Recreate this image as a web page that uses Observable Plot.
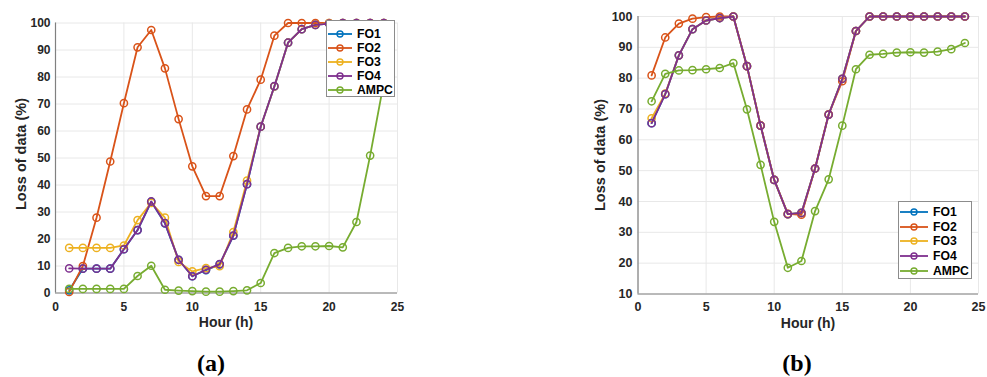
<!DOCTYPE html>
<html>
<head>
<meta charset="utf-8">
<script src="https://cdn.jsdelivr.net/npm/d3@7"></script>
<script src="https://cdn.jsdelivr.net/npm/@observablehq/plot@0.6"></script>
<style>
  html, body { margin: 0; padding: 0; background: #fff; }
  #root { position: relative; width: 987px; height: 377px; overflow: hidden; background: #fff; font-family: "Liberation Sans", Arial, sans-serif; }
  .panel { position: absolute; top: 0; }
  .panel svg text { font-weight: bold; }
  .ytitle, .xtitle { position: absolute; font-weight: bold; font-size: 14.5px; color: #262626; white-space: nowrap; }
  .ytitle { transform: translate(-50%, -50%) rotate(-90deg); }
  .xtitle { transform: translate(-50%, -50%); font-size: 14px; }
  .cap { position: absolute; transform: translate(-50%, -50%); font-family: "Liberation Serif", "DejaVu Serif", serif; font-weight: bold; font-size: 24px; color: #000; }
  .legend { position: absolute; background: #fff; border: 1px solid #8c8c8c; box-sizing: border-box; }
  .legend .row { position: absolute; left: 0; display: flex; align-items: center; font-weight: bold; font-size: 12.2px; color: #000; }
</style>
</head>
<body>
<div id="root"></div>
<script>
// ---------- data ----------
const hours = [1,2,3,4,5,6,7,8,9,10,11,12,13,14,15,16,17,18,19,20,21,22,23,24];
const seriesNames = ["FO1", "FO2", "FO3", "FO4", "AMPC"];
const seriesColors = ["#0072BD", "#D95319", "#EDB120", "#7E2F8E", "#77AC30"];
const xTicks = [0, 5, 10, 15, 20, 25];
const aYTicks = [0, 10, 20, 30, 40, 50, 60, 70, 80, 90, 100];
const bYTicks = [10, 20, 30, 40, 50, 60, 70, 80, 90, 100];

// panel (a)
const aFO1  = [1.0, 9, 9, 9, 16.2, 23.3, 33.8, 25.8, 12.3, 6.2, 8.5, 10.6, 21.2, 40.3, 61.6, 76.5, 92.7, 97.7, 99.3, 99.8, 100, 100, 100, 100];
const aFO2  = [0.4, 10, 27.9, 48.7, 70.3, 91, 97.4, 83.2, 64.4, 46.9, 35.9, 35.9, 50.7, 68, 79, 95.3, 100, 100, 100, 100, 100, 100, 100, 100];
const aFO3  = [16.7, 16.7, 16.7, 16.7, 17.6, 27, 33.4, 27.9, 11.5, 8, 9.2, 9.9, 22.6, 41.6, 61.6, 76.5, 92.7, 97.7, 99.3, 100, 100, 100, 100, 100];
const aFO4  = [9.1, 9, 9, 9, 16.2, 23.3, 33.9, 25.9, 12.3, 6.2, 8.6, 10.7, 21.3, 40.3, 61.6, 76.6, 92.7, 97.7, 99.3, 99.8, 100, 100, 100, 100];
const aAMPC = [1.5, 1.5, 1.5, 1.5, 1.5, 6.3, 10.1, 1.2, 0.9, 0.7, 0.5, 0.5, 0.7, 1, 3.7, 14.8, 16.7, 17.3, 17.3, 17.4, 16.9, 26.3, 50.9, 78];

// panel (b)
const bFO1  = [65.4, 74.8, 87.4, 95.9, 98.7, 99.5, 100, 83.9, 64.6, 47, 35.9, 36.3, 50.7, 68.2, 79.8, 95.3, 100, 100, 100, 100, 100, 100, 100, 100];
const bFO2  = [80.9, 93.2, 97.7, 99.3, 99.8, 100, 100, 83.9, 64.7, 47, 36, 35.7, 50.7, 68.3, 79, 95.3, 100, 100, 100, 100, 100, 100, 100, 100];
const bFO3  = [67, 75, 87.4, 95.9, 98.7, 99.5, 100, 83.9, 64.6, 47, 35.9, 36.3, 50.7, 68.2, 79.8, 95.3, 100, 100, 100, 100, 100, 100, 100, 100];
const bFO4  = [65.4, 74.8, 87.4, 95.9, 98.7, 99.5, 100, 83.9, 64.6, 47, 35.9, 36.3, 50.7, 68.2, 79.8, 95.3, 100, 100, 100, 100, 100, 100, 100, 100];
const bAMPC = [72.5, 81.4, 82.5, 82.6, 82.9, 83.3, 84.9, 69.9, 51.9, 33.4, 18.5, 20.7, 36.9, 47.2, 64.6, 82.9, 87.6, 87.9, 88.3, 88.4, 88.3, 88.6, 89.4, 91.4];

// ---------- helpers ----------
function toRows(arrays) {
  return arrays.map((vals, i) => vals.map((v, j) => ({hour: hours[j], value: v, name: seriesNames[i], color: seriesColors[i]})));
}

function makePanel(arrays, cfg) {
  const rows = toRows(arrays);
  const seriesMarks = rows.flatMap(r => [
    Plot.line(r, {x: "hour", y: "value", stroke: r[0].color, strokeWidth: 1.8}),
    Plot.dot(r, {x: "hour", y: "value", stroke: r[0].color, fill: "none", r: 3.6, strokeWidth: 1.5})
  ]);
  return Plot.plot({
    width: cfg.width,
    height: cfg.height,
    marginLeft: cfg.ml,
    marginRight: cfg.mr,
    marginTop: cfg.mt,
    marginBottom: cfg.mb,
    style: {fontFamily: "'Liberation Sans', Arial, sans-serif", fontSize: cfg.fs + "px", color: "#262626", background: "transparent", overflow: "visible"},
    x: {domain: [0, 25], label: null},
    y: {domain: cfg.yDomain, label: null},
    marks: [
      Plot.gridX(xTicks, {stroke: "#e8e8e8", strokeOpacity: 1}),
      Plot.gridY(cfg.yTicks, {stroke: "#e8e8e8", strokeOpacity: 1}),
      Plot.ruleX([0], {stroke: "#808080", strokeWidth: 1.2}),
      Plot.ruleY([cfg.yDomain[0]], {stroke: "#808080", strokeWidth: 1.2}),
      Plot.axisX({ticks: xTicks, tickSize: 0, tickPadding: cfg.xpad, label: null, fill: "#262626"}),
      Plot.axisY({ticks: cfg.yTicks, tickSize: 0, tickPadding: cfg.ypad, label: null, fill: "#262626"}),
      ...seriesMarks
    ]
  });
}

function addLegend(root, cfg) {
  const lg = document.createElement("div");
  lg.className = "legend";
  Object.assign(lg.style, {left: cfg.left + "px", top: cfg.top + "px", width: cfg.w + "px", height: cfg.h + "px"});
  seriesNames.forEach((name, i) => {
    const row = document.createElement("div");
    row.className = "row";
    row.style.top = (cfg.firstY - cfg.top - 9 + i * cfg.step) + "px";
    row.style.height = "18px";
    const ns = "http://www.w3.org/2000/svg";
    const s = document.createElementNS(ns, "svg");
    s.setAttribute("width", cfg.sw + 4);
    s.setAttribute("height", 18);
    s.style.marginRight = "2px";
    const ln = document.createElementNS(ns, "line");
    ln.setAttribute("x1", 1); ln.setAttribute("x2", cfg.sw + 1);
    ln.setAttribute("y1", 9); ln.setAttribute("y2", 9);
    ln.setAttribute("stroke", seriesColors[i]); ln.setAttribute("stroke-width", 1.8);
    const c = document.createElementNS(ns, "circle");
    c.setAttribute("cx", cfg.sw / 2 + 1); c.setAttribute("cy", 9); c.setAttribute("r", 3);
    c.setAttribute("fill", "none"); c.setAttribute("stroke", seriesColors[i]); c.setAttribute("stroke-width", 1.4);
    s.appendChild(ln); s.appendChild(c);
    const t = document.createElement("span");
    t.textContent = name;
    row.appendChild(s); row.appendChild(t);
    lg.appendChild(row);
  });
  root.appendChild(lg);
}

function addText(root, cls, text, x, y) {
  const d = document.createElement("div");
  d.className = cls;
  d.textContent = text;
  d.style.left = x + "px";
  d.style.top = y + "px";
  root.appendChild(d);
}

// ---------- build ----------
const root = document.getElementById("root");

const pa = makePanel([aFO1, aFO2, aFO3, aFO4, aAMPC], {
  width: 420, height: 340, ml: 55, mr: 23, mt: 22.5, mb: 47.5,
  yDomain: [0, 100], yTicks: aYTicks, fs: 12, xpad: 9, ypad: 5
});
const da = document.createElement("div");
da.className = "panel"; da.style.left = "0px";
da.appendChild(pa);
root.appendChild(da);

const pb = makePanel([bFO1, bFO2, bFO3, bFO4, bAMPC], {
  width: 427, height: 340, ml: 77.5, mr: 9, mt: 16, mb: 46.5,
  yDomain: [10, 100], yTicks: bYTicks, fs: 12.5, xpad: 8.5, ypad: 5.5
});
const db = document.createElement("div");
db.className = "panel"; db.style.left = "560px";
db.appendChild(pb);
root.appendChild(db);

addLegend(root, {left: 326, top: 20, w: 69, h: 77, firstY: 33, step: 14, sw: 24});
addLegend(root, {left: 898, top: 201, w: 74, h: 78, firstY: 211, step: 14.7, sw: 28});

addText(root, "ytitle", "Loss of data (%)", 20.5, 154);
addText(root, "ytitle", "Loss of data (%)", 600, 155);
addText(root, "xtitle", "Hour (h)", 226, 322);
addText(root, "xtitle", "Hour (h)", 808, 323);
addText(root, "cap", "(a)", 211, 363);
addText(root, "cap", "(b)", 797, 363);
</script>
</body>
</html>
